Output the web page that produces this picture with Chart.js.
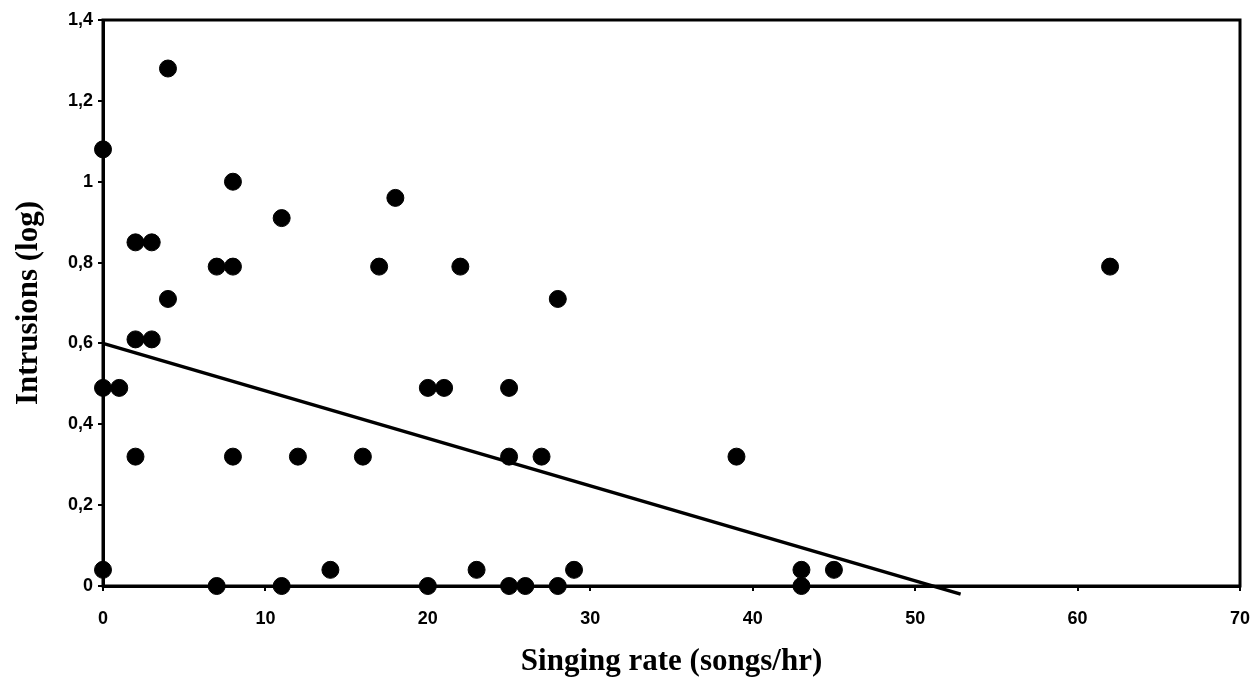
<!DOCTYPE html>
<html>
<head>
<meta charset="utf-8">
<script src="https://cdn.jsdelivr.net/npm/chart.js@4/dist/chart.umd.min.js"></script>
<style>
  html, body { margin: 0; padding: 0; background: #fff; }
  #wrap { width: 1257px; height: 686px; }
</style>
</head>
<body>
<div id="wrap"><canvas id="scatter"></canvas></div>
<script>
// singing rate (songs/hr) and intrusions (log)
const singingRate = [0, 0, 0, 1, 2, 3, 2, 3, 2, 4, 4, 7, 8, 8, 8, 7, 11, 11, 12, 14, 16, 17, 18, 20, 21, 20, 22, 23, 25, 25, 25, 26, 27, 28, 28, 29, 39, 43, 43, 45, 62]
const intrusions  = [1.08, 0.49, 0.04, 0.49, 0.85, 0.85, 0.61, 0.61, 0.32, 1.28, 0.71, 0.79, 0.79, 1.0, 0.32, 0, 0.91, 0, 0.32, 0.04, 0.32, 0.79, 0.96, 0.49, 0.49, 0, 0.79, 0.04, 0.49, 0.32, 0, 0, 0.32, 0.71, 0, 0.04, 0.32, 0.04, 0, 0.04, 0.79]

// regression line end points
const trendX = [0, 52.8]
const trendY = [0.6, -0.02]

const xTicks = [0, 10, 20, 30, 40, 50, 60, 70]
const yTicks = [0, 0.2, 0.4, 0.6, 0.8, 1, 1.2, 1.4]

let points = singingRate.map((x, i) => ({x: x, y: intrusions[i]}))
let trend = trendX.map((x, i) => ({x: x, y: trendY[i]}))

const tickFont = {family: 'Liberation Sans, Arial, sans-serif', size: 18, weight: 'bold'}
const titleFont = {family: 'Liberation Serif, Times New Roman, serif', size: 31, weight: 'bold'}

// frame around the plot area
const frame = {
  id: 'frame',
  afterDraw(chart) {
    const a = chart.chartArea, ctx = chart.ctx
    ctx.save()
    ctx.strokeStyle = '#000'
    ctx.lineWidth = 3
    ctx.strokeRect(a.left, a.top, a.right - a.left, a.bottom - a.top)
    ctx.restore()
  }
}

const config = {
  type: 'scatter',
  data: {
    datasets: [{
      label: 'Intrusions',
      data: points,
      backgroundColor: '#000',
      borderColor: '#000',
      pointRadius: 8.5,
      pointHoverRadius: 8.5,
      clip: false
    }, {
      type: 'line',
      label: 'Trend',
      data: trend,
      borderColor: '#000',
      borderWidth: 3.5,
      pointRadius: 0,
      fill: false,
      clip: false
    }]
  },
  options: {
    responsive: true,
    maintainAspectRatio: false,
    animation: false,
    layout: {autoPadding: false, padding: {top: 20, right: 17, left: 0, bottom: 0}},
    plugins: {legend: {display: false}, tooltip: {enabled: false}},
    scales: {
      x: {
        type: 'linear',
        min: 0,
        max: 70,
        afterBuildTicks: (s) => { s.ticks = xTicks.map(v => ({value: v})) },
        afterFit: (s) => { s.height = 100; s.paddingLeft = 0; s.paddingRight = 0 },
        grid: {display: true, drawOnChartArea: false, color: '#000', tickLength: 5, lineWidth: 2},
        border: {display: true, color: '#000', width: 3},
        ticks: {color: '#000', font: tickFont, padding: 17},
        title: {display: true, text: 'Singing rate (songs/hr)', color: '#000', font: titleFont, padding: {top: 0, bottom: 5}}
      },
      y: {
        type: 'linear',
        min: 0,
        max: 1.4,
        afterBuildTicks: (s) => { s.ticks = yTicks.map(v => ({value: v})) },
        afterFit: (s) => { s.width = 103; s.paddingTop = 0; s.paddingBottom = 0 },
        grid: {display: true, drawOnChartArea: false, color: '#000', tickLength: 5, lineWidth: 2},
        border: {display: true, color: '#000', width: 3},
        ticks: {
          color: '#000', font: tickFont, padding: 5,
          callback: (v) => (Math.round(v * 10) / 10).toString().replace('.', ',')
        },
        title: {display: true, text: 'Intrusions (log)', color: '#000', font: titleFont, padding: {top: 10, bottom: 0}}
      }
    }
  },
  plugins: [frame]
}

let chart = new Chart(document.querySelector('#scatter'), config)
</script>
</body>
</html>
